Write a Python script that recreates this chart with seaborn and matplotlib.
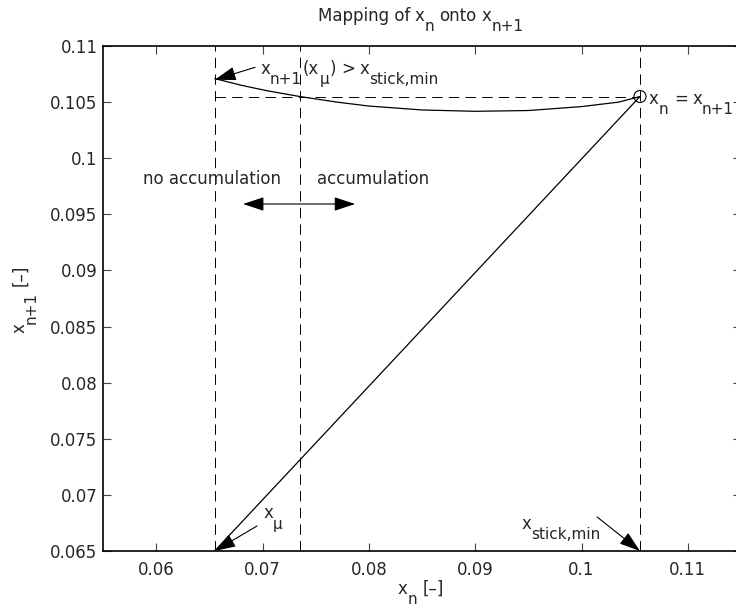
import numpy as np
import pandas as pd
import matplotlib
matplotlib.use("Agg")
import matplotlib.pyplot as plt
from matplotlib.transforms import offset_copy
import seaborn as sns

# ---- data ----
curve_x = [0.0655, 0.068, 0.0705, 0.0735, 0.077, 0.08, 0.085, 0.09, 0.095, 0.1, 0.1035, 0.1055]
curve_y = [0.1071, 0.1065, 0.1060, 0.1055, 0.1050, 0.10465, 0.10430, 0.10418, 0.10425, 0.10460, 0.10500, 0.1055]
diag_x = [0.0655, 0.1055]
diag_y = [0.065, 0.1055]
fixed_point_x = [0.1055]
fixed_point_y = [0.1055]
vlines_x = [0.0655, 0.0735, 0.1055]
hline_y = 0.1055
hline_x = [0.0655, 0.1055]
xticks = [0.06, 0.07, 0.08, 0.09, 0.1, 0.11]
xtick_labels = ["0.06", "0.07", "0.08", "0.09", "0.1", "0.11"]
yticks = [0.065, 0.07, 0.075, 0.08, 0.085, 0.09, 0.095, 0.1, 0.105, 0.11]
ytick_labels = ["0.065", "0.07", "0.075", "0.08", "0.085", "0.09", "0.095", "0.1", "0.105", "0.11"]

sns.set_style("ticks")
plt.rcParams["font.family"] = ["DejaVu Sans"]
plt.rcParams["lines.scale_dashes"] = False

fig = plt.figure(figsize=(7.36, 6.10), dpi=100)
ax = fig.add_axes([103 / 736, 59 / 610, 638 / 736, 505 / 610])

FS = 12
SUBFS = 11
DROP = 7.5
SPACE = 0.27 * FS
dash = (0, (7.5, 4.5))
renderer = fig.canvas.get_renderer()


def rich(trans, x, y, parts, rotation=0, ha="left"):
    """parts: list of (text, kind) where kind in {'m','s','gap'}"""
    items = []
    for s, kind in parts:
        if kind == "gap":
            items.append((None, kind, SPACE))
            continue
        t = fig.text(x, y, s, transform=trans, fontsize=SUBFS if kind == "s" else FS,
                     rotation=rotation, rotation_mode="anchor", va="baseline", ha="left")
        bb = t.get_window_extent(renderer)
        w = (bb.height if rotation == 90 else bb.width) * 72 / fig.dpi
        if kind == "s":
            w += 0.8
        items.append((t, kind, w))
    total = sum(w for _, _, w in items)
    pos = -total / 2 if ha == "center" else 0.0
    for t, kind, w in items:
        if t is not None:
            d = -DROP if kind == "s" else 0.0
            if rotation == 90:
                ox, oy = -d, pos
            else:
                ox, oy = pos, d
            t.set_transform(offset_copy(trans, fig=fig, x=ox, y=oy, units="points"))
        pos += w


# dashed guides
for xv in vlines_x:
    ax.axvline(xv, color="black", lw=0.7, ls=dash, zorder=1)
ax.plot(hline_x, [hline_y, hline_y], color="black", lw=0.7, ls=dash, zorder=1)

df_curve = pd.DataFrame({"x": curve_x, "y": curve_y})
df_diag = pd.DataFrame({"x": diag_x, "y": diag_y})
sns.lineplot(data=df_curve, x="x", y="y", ax=ax, color="black", lw=0.9, sort=False, estimator=None)
sns.lineplot(data=df_diag, x="x", y="y", ax=ax, color="black", lw=0.9, sort=False, estimator=None)
sns.scatterplot(x=fixed_point_x, y=fixed_point_y, ax=ax, s=75, facecolor="none",
                edgecolor="black", linewidth=0.8, zorder=5)

ax.set_xlim(0.055, 0.115)
ax.set_ylim(0.065, 0.11)
ax.set_xticks(xticks)
ax.set_xticklabels(xtick_labels)
ax.set_yticks(yticks)
ax.set_yticklabels(ytick_labels)
ax.tick_params(direction="in", length=6, width=0.8, color="#444444",
               top=True, right=True, labelsize=FS)
ax.tick_params(axis="x", pad=7)
ax.tick_params(axis="y", pad=4)
ax.set_xlabel("")
ax.set_ylabel("")
for sp in ax.spines.values():
    sp.set_linewidth(1.2)
    sp.set_color("black")

# title and axis labels (with MATLAB-like subscripts)
rich(fig.transFigure, 421 / 736, 1 - 21 / 610,
     [("Mapping of", "m"), ("", "gap"), ("x", "m"), ("n", "s"), ("", "gap"),
      ("onto", "m"), ("", "gap"), ("x", "m"), ("n+1", "s")], ha="center")
rich(fig.transFigure, 421 / 736, 1 - 594 / 610,
     [("x", "m"), ("n", "s"), ("", "gap"), ("[–]", "m")], ha="center")
rich(fig.transFigure, 25 / 736, 1 - 299 / 610,
     [("x", "m"), ("n+1", "s"), ("", "gap"), ("[–]", "m")], rotation=90, ha="center")

arrow_kw = dict(arrowstyle="-|>,head_length=1.0,head_width=0.33", color="black",
                lw=0.8, mutation_scale=13, shrinkA=0, shrinkB=0)

# annotations
rich(ax.transData, 0.06977, 0.1075,
     [("x", "m"), ("n+1", "s"), ("(x", "m"), ("μ", "s"), (")", "m"), ("", "gap"),
      (">", "m"), ("", "gap"), ("x", "m"), ("stick,min", "s")])
ax.annotate("", xy=(0.06553, 0.1070), xytext=(0.0693, 0.1081), arrowprops=arrow_kw)

rich(ax.transData, 0.10632, 0.10483,
     [("x", "m"), ("n", "s"), ("", "gap"), ("=", "m"), ("", "gap"), ("x", "m"), ("n+1", "s")])

ax.text(0.05876, 0.0977, "no accumulation", fontsize=FS, va="baseline", ha="left")
ax.text(0.07513, 0.0977, "accumulation", fontsize=FS, va="baseline", ha="left")
ax.annotate("", xy=(0.06817, 0.09592), xytext=(0.07871, 0.09592),
            arrowprops=dict(arrowstyle="<|-|>,head_length=1.0,head_width=0.33", color="black",
                            lw=0.8, mutation_scale=13, shrinkA=0, shrinkB=0))

rich(ax.transData, 0.07005, 0.06790, [("x", "m"), ("μ", "s")])
ax.annotate("", xy=(0.0655, 0.065), xytext=(0.06949, 0.06723), arrowprops=arrow_kw)

rich(ax.transData, 0.09432, 0.06700, [("x", "m"), ("stick,min", "s")])
ax.annotate("", xy=(0.1055, 0.065), xytext=(0.10147, 0.06803), arrowprops=arrow_kw)

fig.savefig("out.png", dpi=100)
